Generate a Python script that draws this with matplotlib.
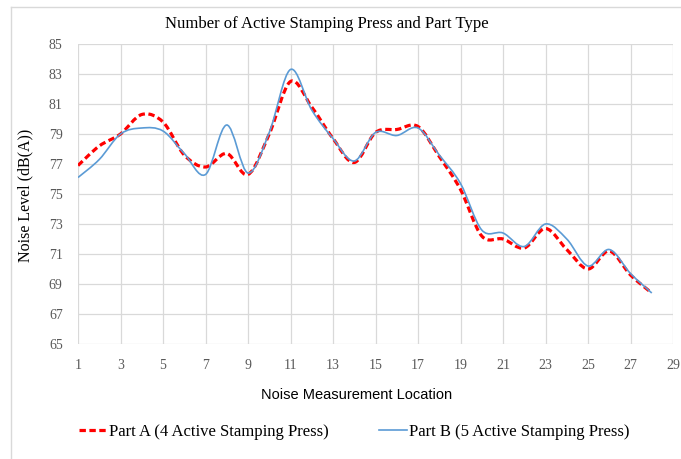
import numpy as np
import matplotlib
matplotlib.use('Agg')
import matplotlib.pyplot as plt
from matplotlib.path import Path
from matplotlib.patches import PathPatch
from matplotlib.lines import Line2D

# 측정 위치 / 소음 값
locations = list(range(1, 29))
part_a = [76.9, 78.2, 79.0, 80.3, 79.8, 77.6, 76.8, 77.7, 76.3, 79.0,
          82.5, 80.8, 78.7, 77.1, 79.1, 79.3, 79.5, 77.5, 75.3, 72.2,
          72.0, 71.4, 72.7, 71.3, 70.0, 71.2, 69.6, 68.4]
part_b = [76.1, 77.3, 79.0, 79.4, 79.2, 77.7, 76.3, 79.6, 76.4, 79.1,
          83.3, 80.6, 78.7, 77.2, 79.1, 78.9, 79.4, 77.6, 75.7, 72.6,
          72.4, 71.5, 73.0, 72.0, 70.2, 71.3, 69.7, 68.4]
label_a = 'Part A (4 Active Stamping Press)'
label_b = 'Part B (5 Active Stamping Press)'
title = 'Number of Active Stamping Press and Part Type'

serif = 'Liberation Serif'
grid_c = '#D9D9D9'


def smooth_path(xs, ys):
    # excel 스타일 부드러운 선 (bezier 제어점)
    p = np.column_stack([xs, ys]).astype(float)
    n = len(p)
    verts = [tuple(p[0])]
    codes = [Path.MOVETO]
    for i in range(n - 1):
        p0 = p[i - 1] if i > 0 else p[i]
        p1 = p[i]
        p2 = p[i + 1]
        p3 = p[i + 2] if i + 2 < n else p[i + 1]
        c1 = p1 + (p2 - p0) / 6
        c2 = p2 - (p3 - p1) / 6
        verts += [tuple(c1), tuple(c2), tuple(p2)]
        codes += [Path.CURVE4] * 3
    return Path(verts, codes)


fig = plt.figure(figsize=(6.81, 4.59), dpi=100)
ax = fig.add_axes([78 / 681, 1 - 344 / 459, 595 / 681, 300 / 459])

ax.add_patch(PathPatch(smooth_path(locations, part_a), fill=False,
                       edgecolor='#FF0000', lw=2.3, linestyle=(0, (2.0, 1.1)),
                       capstyle='butt', zorder=3))
ax.add_patch(PathPatch(smooth_path(locations, part_b), fill=False,
                       edgecolor='#5B9BD5', lw=1.2, zorder=4))

ax.set_xlim(1, 29)
ax.set_ylim(65, 85)
ax.set_xticks(range(1, 30, 2))
ax.set_yticks(range(65, 86, 2))
ax.grid(True, color=grid_c, lw=0.9)
ax.set_axisbelow(True)
for s in ax.spines.values():
    s.set_visible(False)
ax.tick_params(length=0, labelsize=10, labelcolor='#595959')
ax.tick_params(axis='x', pad=11)
ax.tick_params(axis='y', pad=11)
for t in ax.get_xticklabels() + ax.get_yticklabels():
    t.set_fontfamily(serif)

fig.text(327 / 681, 1 - 24 / 459, title, ha='center', va='center',
         fontsize=12, family=serif)
fig.text(25 / 681, 1 - 195 / 459, 'Noise Level (dB(A))', rotation=90,
         ha='center', va='center', fontsize=11.5, family=serif)
fig.text(357 / 681, 1 - 395 / 459, 'Noise Measurement Location',
         ha='center', va='center', fontsize=10.5, family='Liberation Sans')

handles = [Line2D([], [], color='#FF0000', lw=2.3, linestyle=(0, (2.0, 1.1))),
           Line2D([], [], color='#5B9BD5', lw=1.2)]
fig.legend(handles, [label_a, label_b], loc='center',
           bbox_to_anchor=(354 / 681, 1 - 432 / 459), ncol=2, frameon=False,
           prop={'family': serif, 'size': 12}, handlelength=1.7,
           handletextpad=0.12, columnspacing=3.0)

# 바깥 테두리
fig.add_artist(Line2D([11 / 681, 11 / 681], [0, 1 - 7 / 459], color=grid_c, lw=1))
fig.add_artist(Line2D([11 / 681, 1], [1 - 7 / 459, 1 - 7 / 459], color=grid_c, lw=1))

fig.savefig('out.png', dpi=100)
